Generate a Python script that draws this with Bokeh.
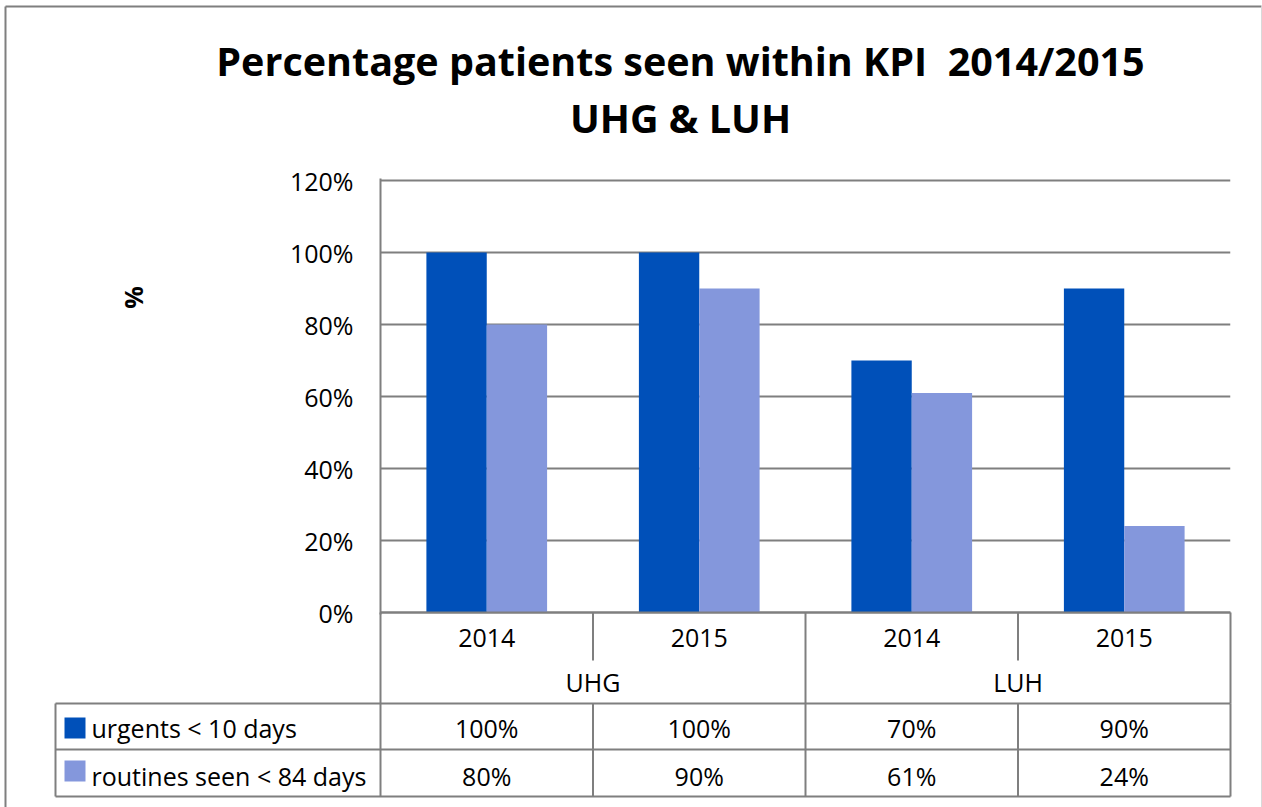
import math
from bokeh.plotting import figure
from bokeh.models import (FactorRange, Range1d, ColumnDataSource, FixedTicker,
                          NumeralTickFormatter)
from bokeh.transform import dodge
from bokeh.core.properties import value
from bokeh.embed import file_html
from bokeh.resources import INLINE

# ---------------- data ----------------
sites = ["UHG", "UHG", "LUH", "LUH"]
years = ["2014", "2015", "2014", "2015"]
urgents = [1.00, 1.00, 0.70, 0.90]
routines = [0.80, 0.90, 0.61, 0.24]
series_names = ["urgents < 10 days", "routines seen < 84 days"]
y_ticks = [0, 0.2, 0.4, 0.6, 0.8, 1.0, 1.2]
title_lines = ["Percentage patients seen within KPI \u00a02014/2015", "UHG & LUH"]
y_label = "%"

# ---------------- style ----------------
DARK = "#0050B9"
LIGHT = "#8497DC"
GRID = "#7F7F7F"
FONT = "Open Sans"
FS = "25px"

W, H = 1262, 807
FRAME_L, FRAME_R = 380, 1230  # px
FRAME_T, FRAME_B = 180, 612   # px for 120% / 0%
PAD = 2
n_cat = len(years)
x_px = (FRAME_R - FRAME_L) / n_cat
y_px = (FRAME_B - FRAME_T) / max(y_ticks)


def sx(px):
    return (px - FRAME_L) / x_px


def sy(py):
    return (FRAME_B - py) / y_px


factors = list(zip(sites, years))
x_range = FactorRange(*factors, factor_padding=0, subgroup_padding=0,
                      group_padding=0, range_padding=0)
y_range = Range1d(-PAD / y_px, max(y_ticks) + PAD / y_px)

p = figure(width=W, height=H, x_range=x_range, y_range=y_range,
           output_backend="svg", toolbar_location=None,
           min_border_left=FRAME_L, min_border_right=W - FRAME_R,
           min_border_top=FRAME_T - PAD,
           min_border_bottom=H - (FRAME_B + PAD))
p.outline_line_color = None
p.background_fill_color = "white"
p.border_fill_color = "white"
p.xaxis.visible = False
p.xgrid.visible = False

ticker = FixedTicker(ticks=y_ticks)
p.yaxis.ticker = ticker
p.yaxis.formatter = NumeralTickFormatter(format="0%")
p.yaxis.major_label_text_font = FONT
p.yaxis.major_label_text_font_size = FS
p.yaxis.major_label_text_color = "black"
p.yaxis.major_tick_line_color = None
p.yaxis.minor_tick_line_color = None
p.yaxis.axis_line_color = GRID
p.yaxis.axis_line_width = 2
p.yaxis.major_label_standoff = 21
p.ygrid.ticker = ticker
p.ygrid.grid_line_color = GRID
p.ygrid.grid_line_width = 2

# ---------------- bars ----------------
src = ColumnDataSource(dict(x=factors, urg=urgents, rou=routines))
bw = 0.284
p.vbar(x=dodge("x", -bw / 2, range=p.x_range), top="urg", width=bw,
       source=src, fill_color=DARK, line_color=None)
p.vbar(x=dodge("x", bw / 2, range=p.x_range), top="rou", width=bw,
       source=src, fill_color=LIGHT, line_color=None)

# ---------------- table lines ----------------
segs = dict(x0=[], y0=[], x1=[], y1=[])


def seg(x0, y0, x1, y1):
    segs["x0"].append(x0)
    segs["y0"].append(y0)
    segs["x1"].append(x1)
    segs["y1"].append(y1)


bounds = list(range(n_cat + 1))
group_bounds = [0] + [i for i in range(1, n_cat) if sites[i] != sites[i - 1]] + [n_cat]
seg(0, 0, n_cat, 0)
for b in bounds:
    seg(b, 0, b, sy(703) if b in group_bounds else sy(660))
left_tab = sx(55)
for yy in (703, 749, 796):
    seg(left_tab, sy(yy), n_cat, sy(yy))
for b in [left_tab] + bounds:
    seg(b, sy(703), b, sy(796))
# outer chart border (left, top)
seg(sx(5), sy(6), sx(5), sy(900))
seg(sx(5), sy(6), sx(1261), sy(6))

p.segment(x0="x0", y0="y0", x1="x1", y1="y1", source=ColumnDataSource(segs),
          line_color=GRID, line_width=2, level="overlay")
p.segment(x0=[sx(1261)], y0=[sy(6)], x1=[sx(1261)], y1=[sy(900)],
          line_color="#D9D9D9", line_width=1, level="overlay")

# legend keys
p.rect(x=[sx(74.5), sx(74.5)], y=[sy(727.5), sy(770.5)], width=21, height=21,
       width_units="screen", height_units="screen",
       fill_color=[DARK, LIGHT], line_color=None, level="overlay")

# ---------------- texts ----------------
common = dict(text_font=value(FONT), text_font_size=value(FS),
              text_color="black", text_baseline="middle", level="overlay")
cat_src = ColumnDataSource(dict(
    x=factors, years=years,
    urg_t=[f"{round(v * 100)}%" for v in urgents],
    rou_t=[f"{round(v * 100)}%" for v in routines]))
p.text(x="x", y=sy(637), text="years", source=cat_src, text_align="center", **common)
p.text(x="x", y=sy(727), text="urg_t", source=cat_src, text_align="center", **common)
p.text(x="x", y=sy(775), text="rou_t", source=cat_src, text_align="center", **common)

grp_x = [(g0 + g1) / 2 for g0, g1 in zip(group_bounds[:-1], group_bounds[1:])]
grp_t = [sites[g0] for g0 in group_bounds[:-1]]
p.text(x=grp_x, y=[sy(681)] * len(grp_x), text=grp_t, text_align="center", **common)

p.text(x=[sx(91)] * 2, y=[sy(727), sy(775)], text=series_names,
       text_align="left", **common)

p.text(x=[sx(680)] * 2, y=[sy(60), sy(117)], text=title_lines,
       text_font=value(FONT), text_font_size=value("39.5px"),
       text_font_style="bold", text_align="center", text_baseline="middle",
       text_color="black", level="overlay")

p.text(x=[sx(132)], y=[sy(297)], text=[y_label], angle=math.pi / 2,
       text_font=value(FONT), text_font_size=value(FS), text_font_style="bold",
       text_align="center", text_baseline="middle", text_color="black",
       level="overlay")

open("out.html", "w").write(file_html(p, INLINE))
